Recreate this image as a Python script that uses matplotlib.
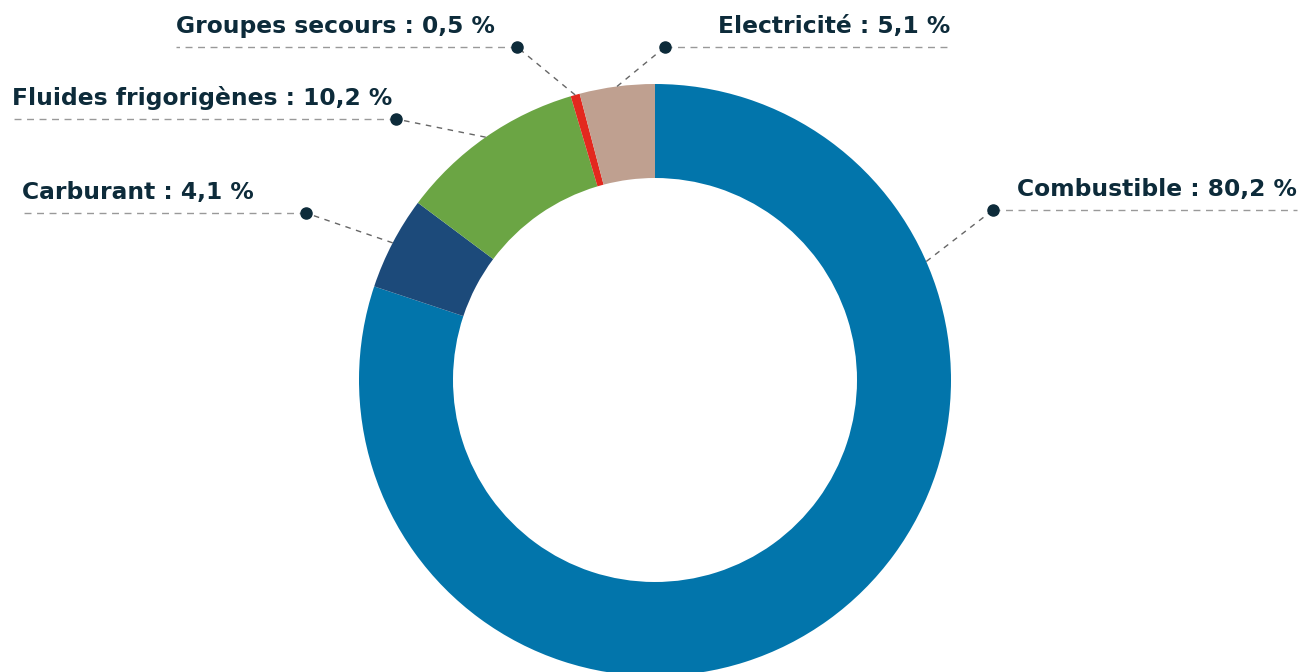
import numpy as np
import matplotlib.pyplot as plt

labels = ['Combustible', 'Carburant', 'Fluides frigorigènes', 'Groupes secours', 'Electricité']
pct_text = ['80,2', '4,1', '10,2', '0,5', '5,1']
# tailles des arcs telles que dessinées sur le graphique
values = [80.2, 5.1, 10.2, 0.5, 4.1]
colors = ['#0275AB', '#1C4A7A', '#6BA544', '#E3281E', '#BFA090']

W, H = 1303, 672
TXT = '#0D2B3A'

fig = plt.figure(figsize=(W / 100, H / 100), dpi=100)
ax = fig.add_axes([0, 0, 1, 1])
ax.axis('off')

cx, cy, R = 655, H - 380, 296
wedges, _ = ax.pie(values, colors=colors, startangle=90, counterclock=False,
                   center=(cx, cy), radius=R,
                   wedgeprops=dict(width=94, linewidth=0))
ax.set_xlim(0, W)
ax.set_ylim(0, H)
ax.set_aspect('equal')

# position des étiquettes : (x du point, y du point, x fin de ligne, côté, angle)
layout = {
    'Combustible': (993, 210, 1297, 'right', 23.6),
    'Carburant': (306, 213, 22, 'left', None),
    'Fluides frigorigènes': (396, 119, 12, 'left', None),
    'Groupes secours': (517, 47, 176, 'left', None),
    'Electricité': (665, 47, 950, 'right', None),
}

for w, lab, p in zip(wedges, labels, pct_text):
    dx, dy, xend, side, ang = layout[lab]
    if ang is None:
        ang = (w.theta1 + w.theta2) / 2
    a = np.deg2rad(ang)
    px, py = cx + R * np.cos(a), cy + R * np.sin(a)
    ax.plot([px, dx], [py, H - dy], ls=(0, (4, 4)), color='#666666', lw=1)
    ax.plot([dx, xend], [H - dy, H - dy], ls=(0, (5, 4)), color='#999999', lw=1)
    ax.plot(dx, H - dy, 'o', color=TXT, ms=8)
    ax.text(xend, H - dy + 14, f"{lab} : {p} %", ha=side, va='baseline',
            fontsize=16.8, fontweight='bold', color=TXT, family='DejaVu Sans')

fig.savefig('out.png', dpi=100)
